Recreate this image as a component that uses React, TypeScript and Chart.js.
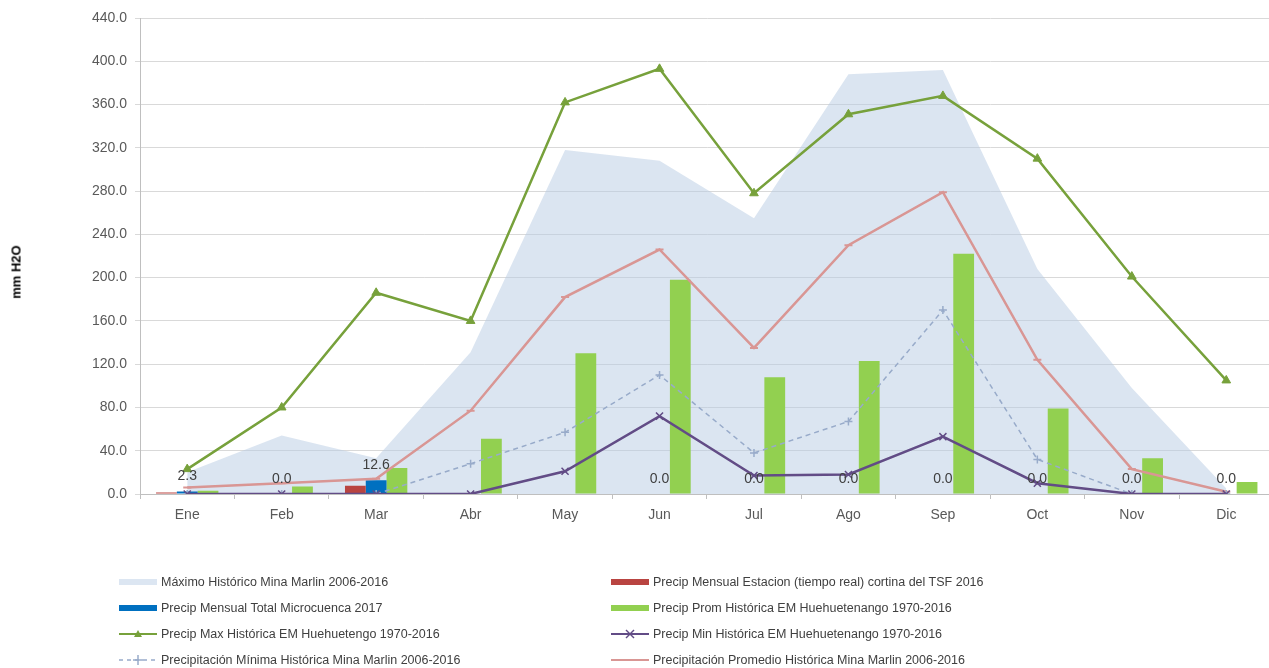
import React, { useEffect, useRef } from 'react';
import { Chart, registerables } from 'chart.js';

Chart.register(...registerables);

const months = ['Ene', 'Feb', 'Mar', 'Abr', 'May', 'Jun', 'Jul', 'Ago', 'Sep', 'Oct', 'Nov', 'Dic'];
const yTicks = [0, 40, 80, 120, 160, 200, 240, 280, 320, 360, 400, 440];

const maxMinaMarlin = [20, 54, 33, 131, 318, 308, 255, 388, 392, 208, 98, 5];
const estacionTSF2016 = [1.5, null, 7.7, null, null, null, null, null, null, null, null, null];
const microcuenca2017 = [2.3, 0, 12.6, null, null, 0, 0, 0, 0, 0, 0, 0];
const promHuehue = [3, 7, 24, 51, 130, 198, 108, 123, 222, 79, 33, 11];
const maxHuehue = [23, 80, 186, 160, 362, 393, 278, 351, 368, 310, 201, 105];
const minHuehue = [0, 0, 0, 0, 21, 72, 17, 18, 53, 10, 0, 0];
const minMinaMarlin = [0, 0, 0, 28, 57, 110, 38, 67, 170, 32, 0, 0];
const promMinaMarlin = [6, 10, 14, 77, 182, 226, 135, 230, 279, 124, 23, 2];

const C_AREA = 'rgba(184,204,228,0.5)';
const C_RED = '#b94441';
const C_BLUE = '#0070c0';
const C_GREENBAR = '#92d050';
const C_GREENLINE = '#77a13b';
const C_PURPLE = '#624c86';
const C_DASH = '#98abca';
const C_PINK = '#d99694';

const FONT = "'Liberation Sans', Arial, sans-serif";

const labelPlugin = {
  id: 'blueLabels',
  afterDatasetsDraw(chart: any) {
    const idx = chart.data.datasets.findIndex((d: any) => d.label === 'Precip Mensual Total Microcuenca 2017');
    if (idx < 0) return;
    const meta = chart.getDatasetMeta(idx);
    const ctx = chart.ctx;
    ctx.save();
    ctx.font = `14px ${FONT}`;
    ctx.fillStyle = '#404040';
    ctx.textAlign = 'center';
    ctx.textBaseline = 'middle';
    meta.data.forEach((el: any, i: number) => {
      const v = chart.data.datasets[idx].data[i];
      if (v === null || v === undefined) return;
      ctx.fillText(Number(v).toFixed(1), el.x, el.y - 15);
    });
    ctx.restore();
  },
};

type LegendItem = { label: string; kind: 'box' | 'line'; color: string; marker?: string; dash?: boolean };

const legendItems: LegendItem[][] = [
  [
    { label: 'Máximo Histórico Mina Marlin 2006-2016', kind: 'box', color: '#dce6f2' },
    { label: 'Precip Mensual Estacion (tiempo real) cortina del TSF 2016', kind: 'box', color: C_RED },
  ],
  [
    { label: 'Precip Mensual Total Microcuenca 2017', kind: 'box', color: C_BLUE },
    { label: 'Precip Prom Histórica EM Huehuetenango 1970-2016', kind: 'box', color: C_GREENBAR },
  ],
  [
    { label: 'Precip Max Histórica EM Huehuetengo 1970-2016', kind: 'line', color: C_GREENLINE, marker: 'triangle' },
    { label: 'Precip Min Histórica EM Huehuetenango 1970-2016', kind: 'line', color: C_PURPLE, marker: 'x' },
  ],
  [
    { label: 'Precipitación Mínima Histórica Mina Marlin 2006-2016', kind: 'line', color: C_DASH, marker: 'plus', dash: true },
    { label: 'Precipitación Promedio Histórica Mina Marlin 2006-2016', kind: 'line', color: C_PINK },
  ],
];

function Swatch({ item }: { item: LegendItem }) {
  if (item.kind === 'box') {
    return (
      <svg width={38} height={12} style={{ display: 'block' }}>
        <rect x={0} y={3} width={38} height={6} fill={item.color} />
      </svg>
    );
  }
  return (
    <svg width={38} height={12} style={{ display: 'block' }}>
      <line x1={0} y1={6} x2={38} y2={6} stroke={item.color} strokeWidth={item.dash ? 1.5 : 2} strokeDasharray={item.dash ? '4 4' : undefined} />
      {item.marker === 'triangle' && <polygon points="19,2 23,9 15,9" fill={item.color} />}
      {item.marker === 'x' && (
        <g stroke={item.color} strokeWidth={1.5}>
          <line x1={15} y1={2} x2={23} y2={10} />
          <line x1={23} y1={2} x2={15} y2={10} />
        </g>
      )}
      {item.marker === 'plus' && (
        <g stroke={item.color} strokeWidth={1.5}>
          <line x1={19} y1={1} x2={19} y2={11} />
          <line x1={14} y1={6} x2={24} y2={6} />
        </g>
      )}
    </svg>
  );
}

export default function App() {
  const ref = useRef<HTMLCanvasElement | null>(null);

  useEffect(() => {
    if (!ref.current) return;
    const chart = new Chart(ref.current, {
      type: 'bar',
      data: {
        labels: months,
        datasets: [
          {
            type: 'line',
            label: 'Máximo Histórico Mina Marlin 2006-2016',
            data: maxMinaMarlin,
            backgroundColor: C_AREA,
            borderWidth: 0,
            borderColor: 'rgba(0,0,0,0)',
            pointRadius: 0,
            fill: 'origin',
            tension: 0,
            order: 10,
          } as any,
          {
            type: 'bar',
            label: 'Precip Mensual Estacion (tiempo real) cortina del TSF 2016',
            data: estacionTSF2016,
            backgroundColor: C_RED,
            order: 5,
          },
          {
            type: 'bar',
            label: 'Precip Mensual Total Microcuenca 2017',
            data: microcuenca2017,
            backgroundColor: C_BLUE,
            order: 5,
          },
          {
            type: 'bar',
            label: 'Precip Prom Histórica EM Huehuetenango 1970-2016',
            data: promHuehue,
            backgroundColor: C_GREENBAR,
            order: 5,
          },
          {
            type: 'line',
            label: 'Precip Max Histórica EM Huehuetengo 1970-2016',
            data: maxHuehue,
            borderColor: C_GREENLINE,
            backgroundColor: C_GREENLINE,
            borderWidth: 2.5,
            pointStyle: 'triangle',
            pointRadius: 5,
            pointBorderWidth: 1,
            tension: 0,
            order: 1,
          },
          {
            type: 'line',
            label: 'Precip Min Histórica EM Huehuetenango 1970-2016',
            data: minHuehue,
            borderColor: C_PURPLE,
            backgroundColor: C_PURPLE,
            borderWidth: 2.5,
            pointStyle: 'crossRot',
            pointRadius: 5,
            pointBorderWidth: 1.5,
            tension: 0,
            order: 1,
          },
          {
            type: 'line',
            label: 'Precipitación Mínima Histórica Mina Marlin 2006-2016',
            data: minMinaMarlin,
            borderColor: C_DASH,
            backgroundColor: C_DASH,
            borderWidth: 1.5,
            borderDash: [5, 4],
            pointStyle: 'cross',
            pointRadius: 4,
            pointBorderWidth: 1.5,
            tension: 0,
            order: 1,
          },
          {
            type: 'line',
            label: 'Precipitación Promedio Histórica Mina Marlin 2006-2016',
            data: promMinaMarlin,
            borderColor: C_PINK,
            backgroundColor: C_PINK,
            borderWidth: 2.5,
            pointStyle: 'line',
            pointRadius: 4,
            pointBorderWidth: 2,
            tension: 0,
            order: 1,
          },
        ],
      },
      options: {
        responsive: false,
        animation: false,
        layout: { padding: { top: 18, right: 6, left: 0, bottom: 0 } },
        datasets: {
          bar: { categoryPercentage: 0.66, barPercentage: 1.0 },
        } as any,
        plugins: {
          legend: { display: false },
          tooltip: { enabled: false },
        },
        scales: {
          x: {
            offset: true,
            grid: {
              offset: true,
              drawOnChartArea: false,
              drawTicks: true,
              tickLength: 5,
              color: '#bfbfbf',
            },
            border: { display: true, color: '#bfbfbf' },
            ticks: {
              color: '#595959',
              font: { family: FONT, size: 14 },
              padding: 8,
              maxRotation: 0,
            },
            afterFit: (s: any) => {
              s.height = 174;
            },
          },
          y: {
            min: 0,
            max: 440,
            afterBuildTicks: (s: any) => {
              s.ticks = yTicks.map((v) => ({ value: v }));
            },
            grid: { color: '#d9d9d9', tickLength: 5 },
            border: { display: true, color: '#bfbfbf' },
            ticks: {
              color: '#595959',
              font: { family: FONT, size: 14 },
              padding: 8,
              callback: (v: any) => Number(v).toFixed(1),
            },
            afterFit: (s: any) => {
              s.width = 140;
            },
          },
        },
      },
      plugins: [labelPlugin],
    });
    return () => chart.destroy();
  }, []);

  return (
    <div
      style={{
        position: 'absolute',
        left: 0,
        top: 0,
        width: 1269,
        height: 668,
        overflow: 'hidden',
        background: '#ffffff',
        fontFamily: FONT,
      }}
    >
      <canvas ref={ref} width={1280} height={668} style={{ position: 'absolute', left: 0, top: 0 }} />
      <div
        style={{
          position: 'absolute',
          left: 16,
          top: 272,
          transform: 'translate(-50%, -50%) rotate(-90deg)',
          fontSize: 13,
          fontWeight: 'bold',
          color: '#000',
          whiteSpace: 'nowrap',
        }}
      >
        mm H2O
      </div>
      {legendItems.map((row, r) =>
        row.map((item, c) => (
          <div
            key={`${r}-${c}`}
            style={{
              position: 'absolute',
              left: c === 0 ? 119 : 611,
              top: 582 + r * 26 - 8,
              height: 16,
              display: 'flex',
              alignItems: 'center',
              whiteSpace: 'nowrap',
              fontSize: 12.5,
              color: '#404040',
            }}
          >
            <Swatch item={item} />
            <span style={{ marginLeft: 4 }}>{item.label}</span>
          </div>
        ))
      )}
    </div>
  );
}
